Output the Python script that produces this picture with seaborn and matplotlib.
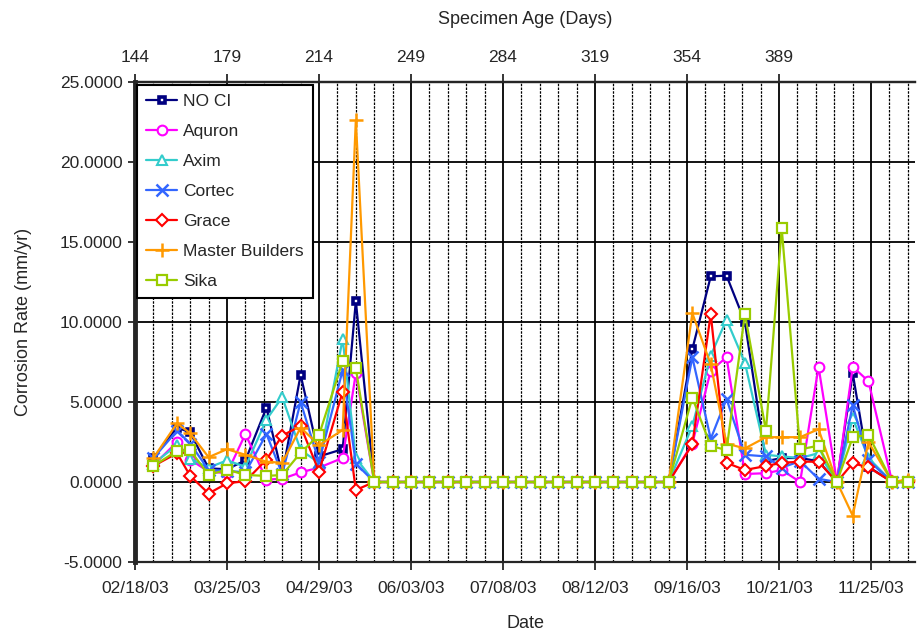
import pandas as pd
import matplotlib
matplotlib.use('Agg')
import matplotlib.pyplot as plt
import matplotlib.ticker as mticker
import matplotlib.dates as mdates
import seaborn as sns

# measurement days counted from 02/18/03 (specimen age 144 days)
start = pd.Timestamp('2003-02-18')
start_age = 144
days = [7, 16, 21, 28, 35, 42, 50, 56, 63, 70, 79, 84, 91,
        98, 105, 112, 119, 126, 133, 140, 147, 154, 161, 168, 175, 182, 189, 196, 203,
        212, 219, 225, 232, 240, 246, 253, 260, 267, 273, 279, 288, 294]

no_ci = [1.5, 3.4, 3.1, 0.85, 0.8, 1.35, 4.65, 0.45, 6.7, 1.6, 2.05, 11.3, 0.0,
         0, 0, 0, 0, 0, 0, 0, 0, 0, 0, 0, 0, 0, 0, 0, 0,
         8.3, 12.85, 12.9, 10.0, 1.3, 1.5, 1.5, 1.3, 0.0, 6.8, 0.95, 0.0, 0.0]
aquron = [1.05, 2.5, 1.4, 0.65, 0.55, 3.0, 0.15, 0.2, 0.6, 0.9, 1.5, 6.8, 0.0,
          0, 0, 0, 0, 0, 0, 0, 0, 0, 0, 0, 0, 0, 0, 0, 0,
          2.4, 6.95, 7.8, 0.5, 0.55, 0.75, 0.0, 7.2, 0.0, 7.2, 6.3, 0.0, 0.0]
axim = [1.15, 2.3, 1.45, 0.9, 1.35, 0.95, 3.9, 5.3, 2.0, 1.2, 8.95, 1.5, 0.0,
        0, 0, 0, 0, 0, 0, 0, 0, 0, 0, 0, 0, 0, 0, 0, 0,
        3.5, 7.9, 10.15, 7.45, 1.7, 1.6, 1.5, 1.8, 0.0, 4.0, 1.5, 0.0, 0.0]
cortec = [1.5, 3.2, 2.4, 0.75, 0.7, 0.6, 3.0, 0.5, 5.0, 1.25, 7.0, 1.15, 0.0,
          0, 0, 0, 0, 0, 0, 0, 0, 0, 0, 0, 0, 0, 0, 0, 0,
          7.8, 2.7, 5.2, 1.7, 1.6, 0.9, 1.3, 0.2, 0.0, 4.8, 1.35, 0.0, 0.0]
grace = [1.0, 1.8, 0.38, -0.72, -0.08, 0.05, 1.4, 2.9, 3.5, 0.65, 5.65, -0.5, 0.0,
         0, 0, 0, 0, 0, 0, 0, 0, 0, 0, 0, 0, 0, 0, 0, 0,
         2.35, 10.5, 1.2, 0.75, 1.0, 1.2, 1.27, 1.27, 0.0, 1.17, 0.92, 0.0, 0.0]
master_builders = [1.5, 3.67, 3.04, 1.55, 2.05, 1.7, 1.27, 1.2, 3.4, 2.3, 3.25, 22.6, 0.0,
                   0, 0, 0, 0, 0, 0, 0, 0, 0, 0, 0, 0, 0, 0, 0, 0,
                   10.55, 7.35, 2.4, 2.1, 2.8, 2.8, 2.8, 3.3, 0.0, -2.1, 2.5, 0.0, 0.15]
sika = [1.0, 1.95, 1.98, 0.44, 0.78, 0.44, 0.38, 0.44, 1.83, 2.94, 7.55, 7.1, 0.0,
        0, 0, 0, 0, 0, 0, 0, 0, 0, 0, 0, 0, 0, 0, 0, 0,
        5.27, 2.25, 2.0, 10.5, 3.2, 15.85, 2.04, 2.27, 0.0, 2.8, 2.95, 0.0, 0.0]

series = {'NO CI': no_ci, 'Aquron': aquron, 'Axim': axim, 'Cortec': cortec,
          'Grace': grace, 'Master Builders': master_builders, 'Sika': sika}
styles = {'NO CI': ('#000080', 's', 5, 2.6),
          'Aquron': ('#FF00FF', 'o', 7, 1.5),
          'Axim': ('#33CCCC', '^', 7, 1.5),
          'Cortec': ('#3366FF', 'x', 8, 1.8),
          'Grace': ('#FF0000', 'D', 6, 1.5),
          'Master Builders': ('#FF9900', '+', 10, 1.8),
          'Sika': ('#99CC00', 's', 7, 1.6)}

dates = [start + pd.Timedelta(days=d) for d in days]
rows = []
for name, vals in series.items():
    for dt, v in zip(dates, vals):
        rows.append({'Date': dt, 'Rate': v, 'Product': name})
df = pd.DataFrame(rows)

sns.set_style('ticks')
plt.rcParams['font.family'] = ['Liberation Sans', 'DejaVu Sans']
plt.rcParams['font.size'] = 12.5

fig = plt.figure(figsize=(9.17, 6.34), dpi=100)
ax = fig.add_axes([135 / 917, 72 / 634, 780 / 917, 480 / 634])

for name in series:
    c, m, ms, mew = styles[name]
    sns.lineplot(data=df[df['Product'] == name], x='Date', y='Rate', ax=ax,
                 color=c, marker=m, markersize=ms, markeredgewidth=mew,
                 markerfacecolor='white', markeredgecolor=c, linewidth=1.6,
                 label=name, zorder=3)

x0 = mdates.date2num(start)
ax.set_xlim(x0, x0 + 296.7)
ax.set_ylim(-5, 25)
major = pd.date_range(start, periods=9, freq='35D')
minor = pd.date_range(start, start + pd.Timedelta(days=296), freq='7D')
ax.set_xticks(major)
ax.set_xticks(minor, minor=True)
ax.xaxis.set_major_formatter(mdates.DateFormatter('%m/%d/%y'))
ax.set_yticks(range(-5, 26, 5))
ax.yaxis.set_major_formatter(mticker.FormatStrFormatter('%.4f'))

ax.set_axisbelow(True)
ax.grid(which='major', axis='both', color='black', linewidth=1.3)
ax.grid(which='minor', axis='x', color='black', linewidth=0.9, linestyle=(0, (2, 1)))
ax.tick_params(axis='x', which='major', direction='out', length=6, width=1.3, pad=8, labelsize=12.5)
ax.tick_params(axis='x', which='minor', length=0)
ax.tick_params(axis='y', direction='out', length=5, width=1.3, pad=4, labelsize=12.5)

ax.spines['left'].set_linewidth(3.5)
ax.spines['bottom'].set_linewidth(1.6)
ax.spines['top'].set_linewidth(1.6)
ax.spines['right'].set_visible(False)

ax.set_xlabel('Date', fontsize=13, labelpad=13)
ax.set_ylabel('Corrosion Rate (mm/yr)', fontsize=13, labelpad=20)

top = ax.secondary_xaxis('top', functions=(lambda x: x - x0 + start_age,
                                           lambda a: a - start_age + x0))
top.set_xticks([start_age + 35 * k for k in range(8)])
top.xaxis.set_major_formatter(mticker.FormatStrFormatter('%d'))
top.tick_params(direction='out', length=6, width=1.3, pad=6, labelsize=12.5)
top.spines['top'].set_linewidth(1.6)
top.set_xlabel('Specimen Age (Days)', fontsize=13, labelpad=19)

leg = ax.legend(loc='upper left', bbox_to_anchor=(0.003, 0.994), frameon=True,
                fancybox=False, edgecolor='black', framealpha=1, fontsize=12.5,
                borderpad=0.5, labelspacing=0.86, handlelength=1.8,
                handletextpad=0.35, borderaxespad=0.0)
leg.get_frame().set_linewidth(1.5)

fig.savefig('out.png', dpi=100)
